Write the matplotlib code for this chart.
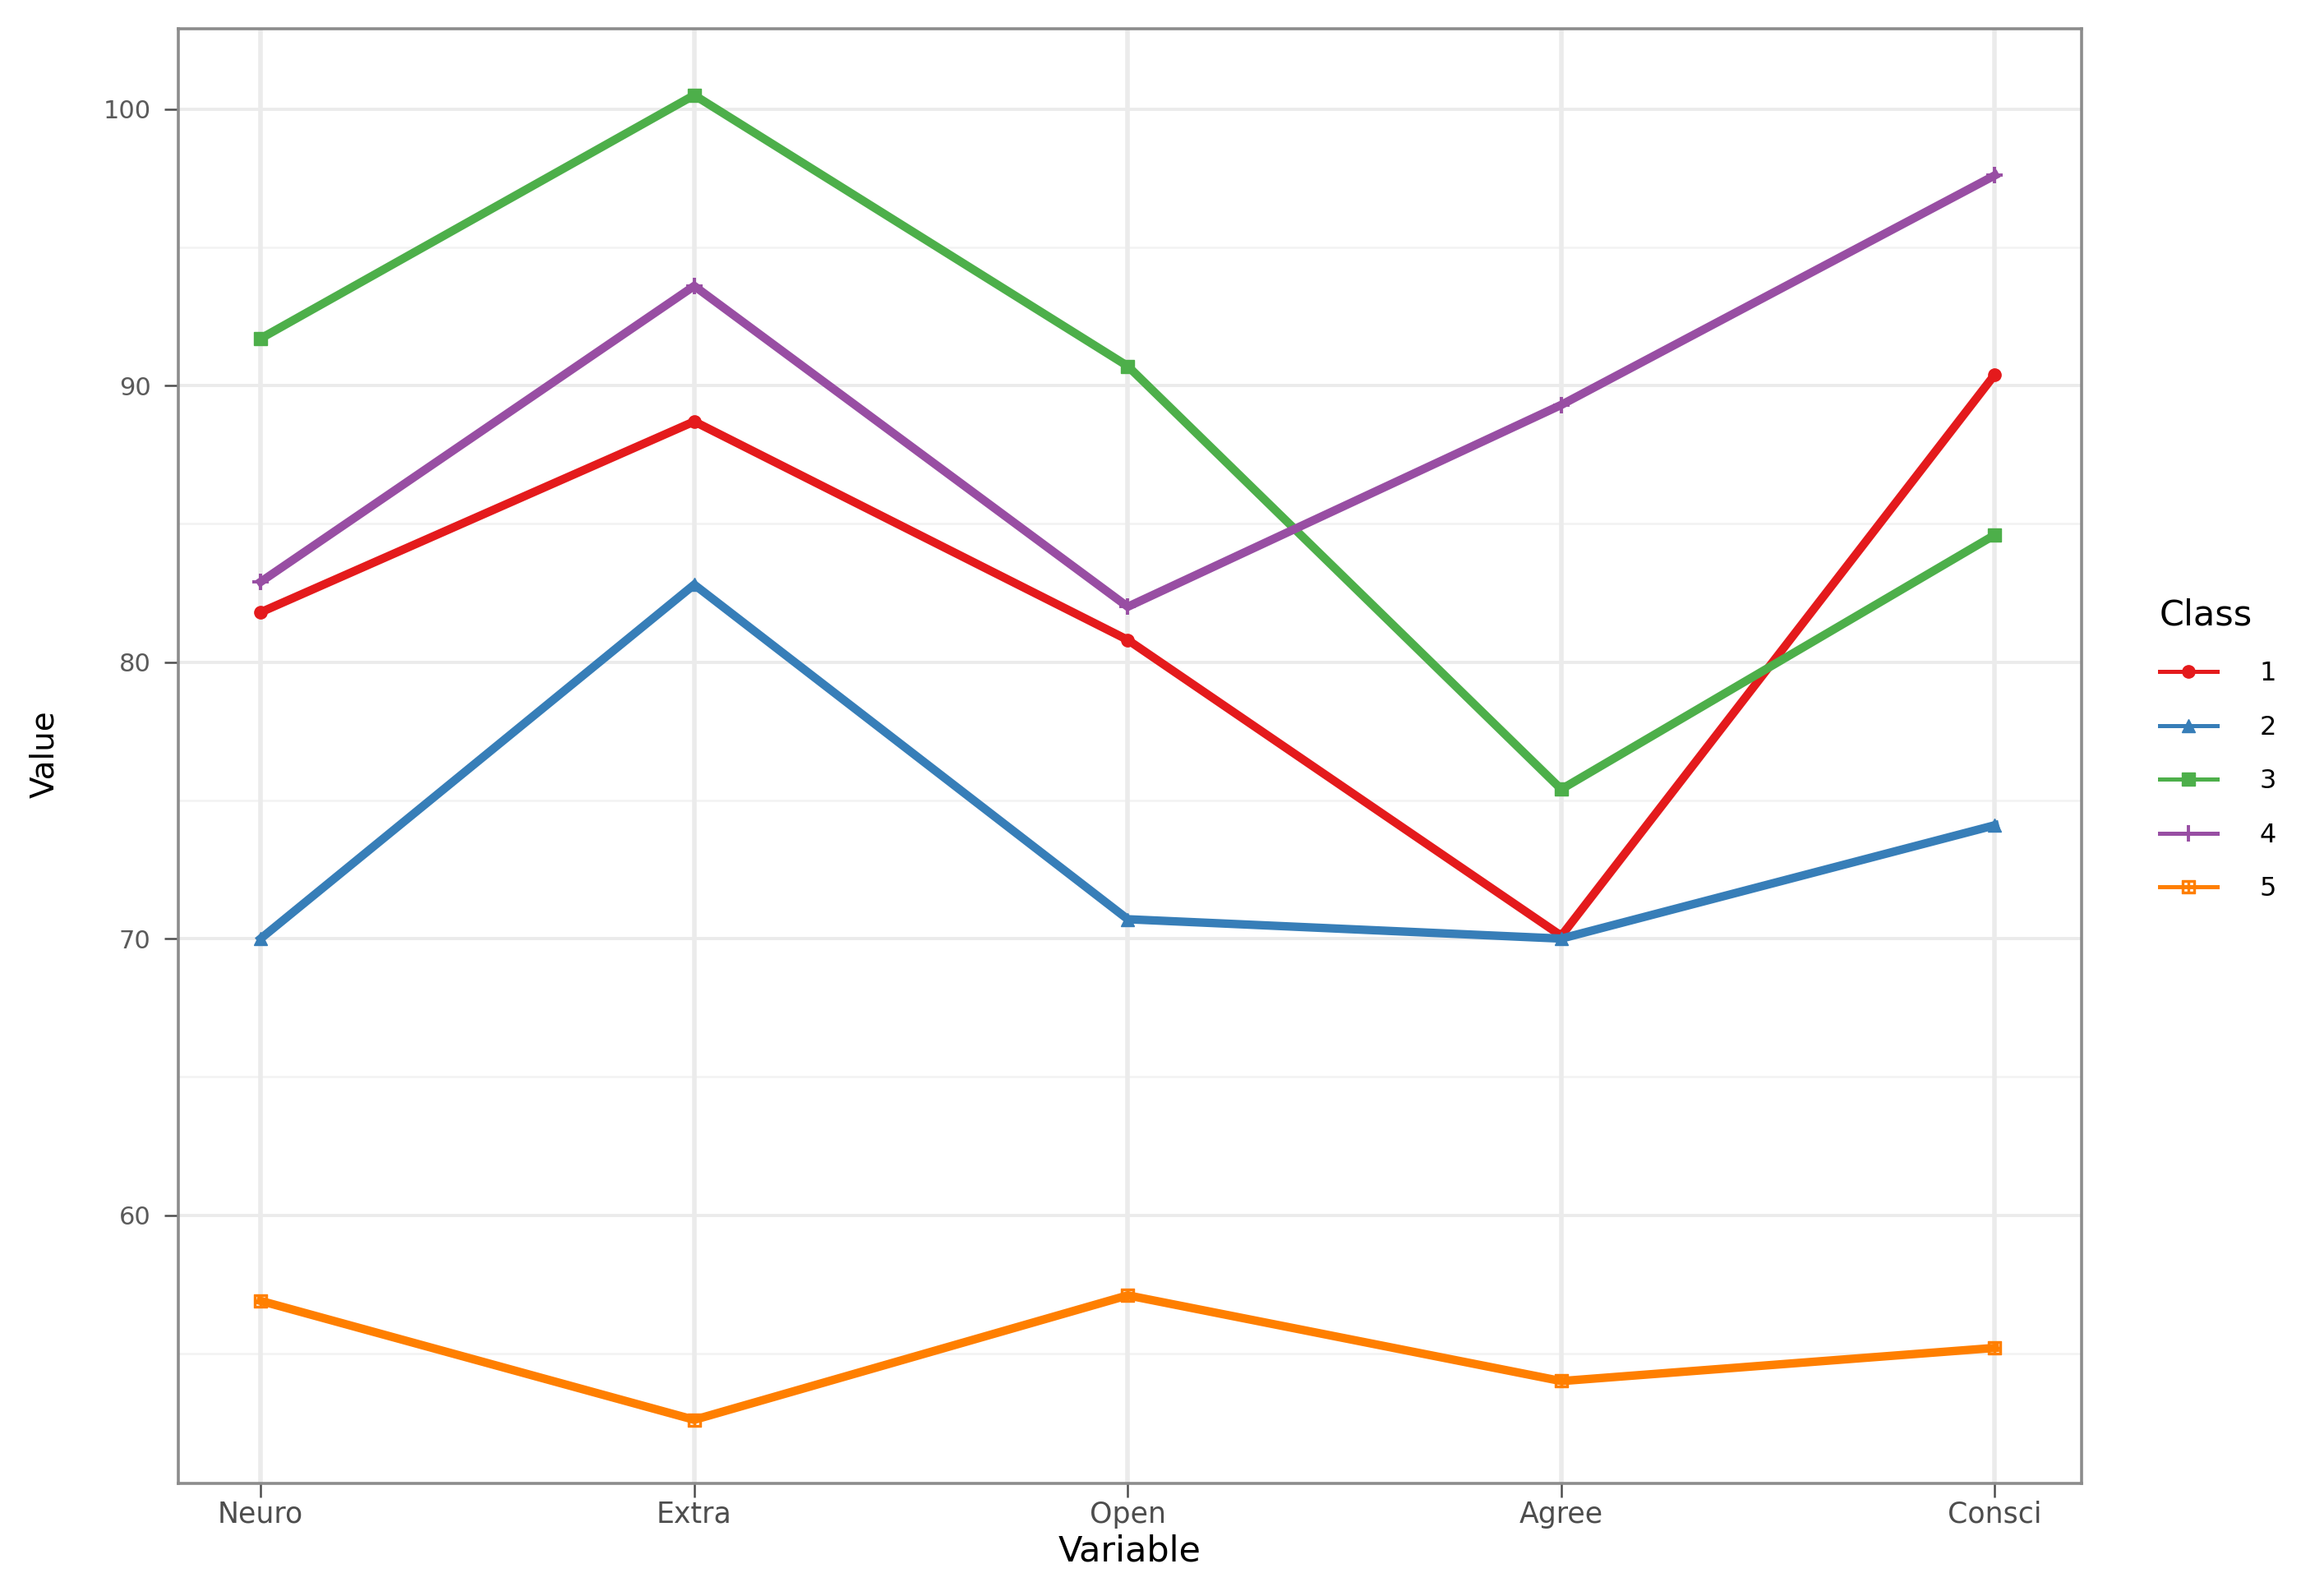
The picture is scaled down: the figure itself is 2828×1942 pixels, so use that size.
import matplotlib
matplotlib.use("Agg")
import matplotlib.pyplot as plt
import numpy as np

# data
variables = ["Neuro", "Extra", "Open", "Agree", "Consci"]
classes = ["1", "2", "3", "4", "5"]
class1 = [81.8, 88.7, 80.8, 70.1, 90.4]
class2 = [70.0, 82.8, 70.7, 70.0, 74.1]
class3 = [91.7, 100.5, 90.7, 75.4, 84.6]
class4 = [82.9, 93.6, 82.0, 89.3, 97.6]
class5 = [56.9, 52.6, 57.1, 54.0, 55.2]

series = [class1, class2, class3, class4, class5]
colors = ["#E41A1C", "#377EB8", "#4DAF4A", "#984EA3", "#FF7F00"]
markers = ["o", "^", "s", "+", "$\u229E$"]

W, H = 2828, 1942
fig = plt.figure(figsize=(W / 200, H / 200), dpi=200)

# panel placement (pixels in the full image)
left, right, top, bottom = 217, 2533, 35, 1805
ax = fig.add_axes([left / W, 1 - bottom / H, (right - left) / W, (bottom - top) / H])

x = np.arange(1, len(variables) + 1)

# grid like ggplot theme_bw
for yv in [55, 65, 75, 85, 95]:
    ax.axhline(yv, color="#f2f2f2", lw=0.9, zorder=0)
for yv in [60, 70, 80, 90, 100]:
    ax.axhline(yv, color="#ebebeb", lw=1.4, zorder=0)
for xv in x:
    ax.axvline(xv, color="#ebebeb", lw=2.0, zorder=0)

handles = []
for vals, c, m, name in zip(series, colors, markers, classes):
    ms = 5.5 if m != "+" else 7
    mew = 1.4 if m == "+" else 0.5
    (h,) = ax.plot(x, vals, color=c, lw=3.7, marker=m, markersize=ms,
                   markeredgewidth=mew, markeredgecolor=c, label=name,
                   solid_joinstyle="miter", zorder=3)
    handles.append(h)

ax.set_xlim(0.81, 5.2)
ax.set_ylim(50.3, 102.9)
ax.set_xticks(x)
ax.set_xticklabels(variables)
ax.set_yticks([60, 70, 80, 90, 100])

for s in ax.spines.values():
    s.set_color("#8c8c8c")
    s.set_linewidth(1.3)

ax.tick_params(axis="both", length=6, width=0.9, color="#4d4d4d")
ax.tick_params(axis="x", labelsize=12.5, labelcolor="#4d4d4d", pad=1.5)
ax.tick_params(axis="y", labelsize=11, labelcolor="#5a5a5a", pad=6)

fig.text(54 / W, 1 - 918 / H, "Value", rotation=90, ha="center", va="center",
         fontsize=14, color="black")
fig.text((left + right) / 2 / W, 1 - 1887 / H, "Variable", ha="center", va="center",
         fontsize=15.5, color="black")

leg = fig.legend(handles=handles, labels=classes, title="Class",
                 loc="upper left", bbox_to_anchor=(2612 / W, 1 - 712 / H),
                 frameon=False, fontsize=11.5, title_fontsize=15.5,
                 handlelength=2.2, handletextpad=1.6, labelspacing=1.08,
                 borderpad=0)
leg._legend_box.align = "left"
for lh in leg.legend_handles:
    lh.set_linewidth(1.8)

fig.savefig("out.png", dpi=200, facecolor="white")
